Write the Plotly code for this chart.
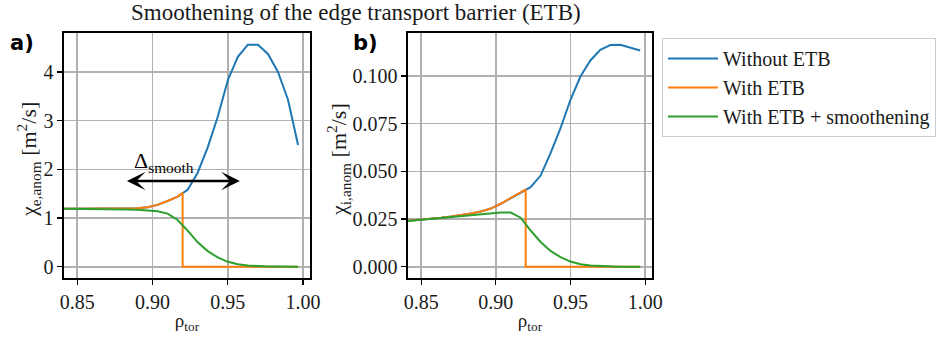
import plotly.graph_objects as go

# ---------------- data ----------------
rho = [0.83667, 0.84333, 0.85, 0.85667, 0.86333, 0.87, 0.87667, 0.88333, 0.89, 0.89667,
       0.90333, 0.91, 0.91667, 0.92333, 0.93, 0.93667, 0.94333, 0.95, 0.95667, 0.96333,
       0.97, 0.97667, 0.98333, 0.99, 0.99667]

chi_e_no_etb = [1.19, 1.19, 1.19, 1.19, 1.19, 1.19, 1.19, 1.195, 1.20, 1.22,
                1.27, 1.35, 1.44, 1.58, 1.93, 2.45, 3.08, 3.83, 4.31, 4.56,
                4.56, 4.37, 4.00, 3.43, 2.50]
chi_e_smooth = [1.19, 1.19, 1.19, 1.19, 1.185, 1.18, 1.18, 1.175, 1.17, 1.16,
                1.14, 1.09, 0.96, 0.74, 0.50, 0.32, 0.19, 0.10, 0.05, 0.025,
                0.012, 0.005, 0.002, 0.001, 0.0]

chi_i_no_etb = [0.0238, 0.0242, 0.0247, 0.0252, 0.0257, 0.0263, 0.0270, 0.0279, 0.0290, 0.0305,
                0.0330, 0.0360, 0.0390, 0.0417, 0.0478, 0.0595, 0.0726, 0.0875, 0.0997, 0.1081,
                0.1137, 0.1162, 0.1163, 0.1150, 0.1133]
chi_i_smooth = [0.0236, 0.0241, 0.0246, 0.0251, 0.0256, 0.0261, 0.0267, 0.0272, 0.0277, 0.0281,
                0.0284, 0.0284, 0.0257, 0.0190, 0.0130, 0.0083, 0.0050, 0.0027, 0.0013, 0.0006,
                0.0003, 0.0001, 0.0, 0.0, 0.0]

rho_etb = 0.92                 # barrier position
chi_e_at_etb = 1.52
chi_i_at_etb = 0.0406

delta_smooth = [0.882, 0.958]  # arrow extent
delta_y = 1.76

xticks = [0.85, 0.90, 0.95, 1.00]
xticktext = ["0.85", "0.90", "0.95", "1.00"]
yticks_a = [0, 1, 2, 3, 4]
yticks_b = [0.0, 0.025, 0.05, 0.075, 0.1]
yticktext_b = ["0.000", "0.025", "0.050", "0.075", "0.100"]

names = ["Without ETB", "With ETB", "With ETB + smoothening"]
colors = ["#1f77b4", "#ff7f0e", "#2ca02c"]

# With-ETB curves: identical inside, cut to zero at the barrier
def with_etb(x, y, y_at):
    xs, ys = [], []
    for xi, yi in zip(x, y):
        if xi < rho_etb:
            xs.append(xi); ys.append(yi)
    xs += [rho_etb, rho_etb]
    ys += [y_at, 0.0]
    for xi in x:
        if xi > rho_etb:
            xs.append(xi); ys.append(0.0)
    return xs, ys

xe_etb, ye_etb = with_etb(rho, chi_e_no_etb, chi_e_at_etb)
xi_etb, yi_etb = with_etb(rho, chi_i_no_etb, chi_i_at_etb)

# ---------------- figure ----------------
W, H = 941, 338
L, R, T, B = 64, 652, 33, 278
FONT = "Liberation Serif, Times New Roman, serif"
TXT = "#1a1a1a"

fig = go.Figure()
panels = [("x", "y", chi_e_no_etb, (xe_etb, ye_etb), chi_e_smooth, True),
          ("x2", "y2", chi_i_no_etb, (xi_etb, yi_etb), chi_i_smooth, False)]
for xa, ya, y_no, (x_w, y_w), y_s, show in panels:
    fig.add_trace(go.Scatter(x=rho, y=y_no, mode="lines", name=names[0],
                             line=dict(color=colors[0], width=2), xaxis=xa, yaxis=ya,
                             showlegend=show, legendrank=1))
    fig.add_trace(go.Scatter(x=x_w, y=y_w, mode="lines", name=names[1],
                             line=dict(color=colors[1], width=2), xaxis=xa, yaxis=ya,
                             showlegend=show, legendrank=2))
    fig.add_trace(go.Scatter(x=rho, y=y_s, mode="lines", name=names[2],
                             line=dict(color=colors[2], width=2), xaxis=xa, yaxis=ya,
                             showlegend=show, legendrank=3))

pw = R - L
ph = B - T
dom_a = [0, (310 - L) / pw]
dom_b = [(408 - L) / pw, 1]

def px_x(p):
    return (p - L) / pw

def px_y(p):
    return (B - p) / ph

def axis_common():
    return dict(showline=True, linecolor="black", linewidth=1.6, mirror=True,
                ticks="outside", ticklen=5, tickwidth=1.2, tickcolor="black",
                showgrid=True, gridcolor="#b0b0b0", gridwidth=1.6, zeroline=False,
                automargin=False,
                tickfont=dict(family=FONT, size=20, color=TXT))

xrange = [0.8412, 1.0046]
fig.update_layout(
    width=W, height=H,
    margin=dict(l=L, r=W - R, t=T, b=H - B, autoexpand=False),
    paper_bgcolor="white", plot_bgcolor="white",
    font=dict(family=FONT, size=20, color=TXT),
    xaxis=dict(domain=dom_a, range=xrange, tickvals=xticks, ticktext=xticktext,
               title=dict(text="ρ<sub>tor</sub>", font=dict(family=FONT, size=19, color=TXT), standoff=2),
               anchor="y", **axis_common()),
    yaxis=dict(domain=[0, 1], range=[-0.232, 4.80], tickvals=yticks_a,
               anchor="x", **axis_common()),
    xaxis2=dict(domain=dom_b, range=xrange, tickvals=xticks, ticktext=xticktext,
                title=dict(text="ρ<sub>tor</sub>", font=dict(family=FONT, size=19, color=TXT), standoff=2),
                anchor="y2", **axis_common()),
    yaxis2=dict(domain=[0, 1], range=[-0.0059, 0.1225], tickvals=yticks_b, ticktext=yticktext_b,
                anchor="x2", **axis_common()),
    legend=dict(x=px_x(662), y=px_y(38), xanchor="left", yanchor="top",
                bgcolor="white", bordercolor="#cccccc", borderwidth=1,
                font=dict(family=FONT, size=20, color=TXT), tracegroupgap=0,
                itemwidth=50),
    showlegend=True,
)

annotations = [
    dict(text="Smoothening of the edge transport barrier (ETB)", xref="paper", yref="paper",
         x=px_x(356), y=px_y(12), xanchor="center", yanchor="middle", showarrow=False,
         font=dict(family=FONT, size=23, color=TXT)),
    dict(text="<b>a)</b>", xref="paper", yref="paper", x=px_x(22), y=px_y(43),
         xanchor="center", yanchor="middle", showarrow=False,
         font=dict(family="DejaVu Sans", size=21, color="black")),
    dict(text="<b>b)</b>", xref="paper", yref="paper", x=px_x(365), y=px_y(43),
         xanchor="center", yanchor="middle", showarrow=False,
         font=dict(family="DejaVu Sans", size=21, color="black")),
    dict(text="χ<sub>e,anom</sub> [m<sup>2</sup>/s]", xref="paper", yref="paper",
         x=px_x(28), y=px_y(160), xanchor="center", yanchor="middle", textangle=-90,
         showarrow=False, font=dict(family=FONT, size=22, color=TXT)),
    dict(text="χ<sub>i,anom</sub> [m<sup>2</sup>/s]", xref="paper", yref="paper",
         x=px_x(338), y=px_y(160), xanchor="center", yanchor="middle", textangle=-90,
         showarrow=False, font=dict(family=FONT, size=22, color=TXT)),
    dict(text="Δ<sub>smooth</sub>", xref="x", yref="y", x=0.9076, y=2.15,
         xanchor="center", yanchor="middle", showarrow=False,
         font=dict(family=FONT, size=22, color="black")),
    dict(text="", xref="x", yref="y", axref="x", ayref="y",
         x=delta_smooth[1], y=delta_y, ax=delta_smooth[0], ay=delta_y,
         showarrow=True, arrowside="end+start", arrowhead=3, startarrowhead=3,
         arrowsize=1.2, startarrowsize=1.2, arrowwidth=2.6, arrowcolor="black"),
]
fig.update_layout(annotations=annotations)

fig.write_html("out.html",
               config={"displayModeBar": False, "staticPlot": True},
               post_script="document.body.style.margin='0px';document.body.style.padding='0px';"
                           "document.body.style.overflow='hidden';")
